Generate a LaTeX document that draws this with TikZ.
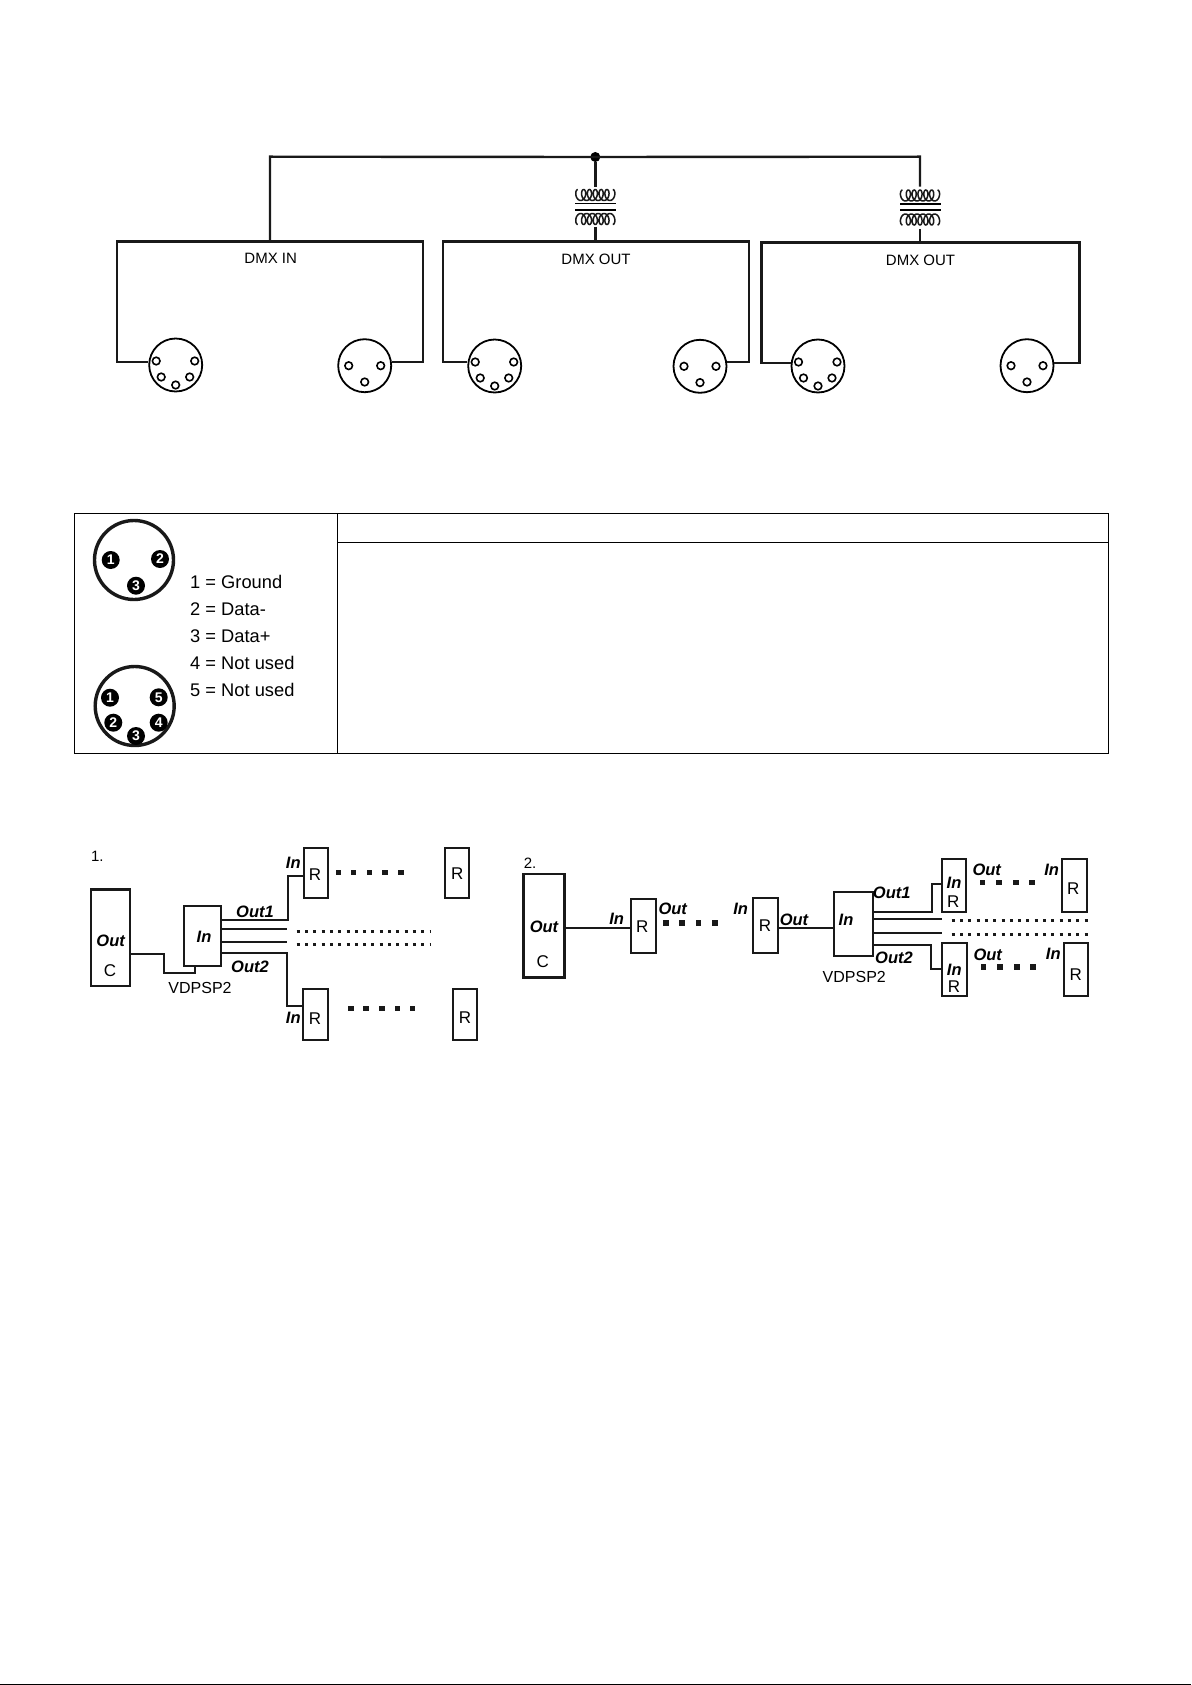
\documentclass[tikz,border=0pt]{standalone}
\usepackage{fontspec}
\setmainfont{Liberation Sans}
\tikzset{
  wire/.style={line width=2.4pt,line join=miter,color=black!90},
  thin wire/.style={line width=2pt,color=black!90},
  rbox/.style={draw=black!90,line width=2.1pt,rectangle,inner sep=0pt,fill=white},
  cbox/.style={draw=black!90,line width=2.6pt,rectangle,inner sep=0pt,fill=white},
  lab/.style={inner sep=0pt,font=\fontsize{15}{18}\selectfont},
  rtxt/.style={inner sep=0pt,font=\fontsize{17}{20}\selectfont},
  vtxt/.style={inner sep=0pt,font=\fontsize{16}{19}\selectfont},
  sig/.style={inner sep=0pt,font=\fontsize{16.5}{19}\selectfont\bfseries\itshape},
  dmxlab/.style={inner sep=0pt,font=\fontsize{15}{18}\selectfont},
  legend/.style={inner sep=0pt,anchor=west,font=\fontsize{18.3}{21}\selectfont},
  plug/.style={circle,draw=black,line width=1.8pt,minimum size=53pt,inner sep=0pt,fill=white},
  pin/.style={draw=black,line width=1.6pt,fill=white},
  bigplug/.style={circle,draw=black!90,line width=3.4pt,minimum size=79pt,inner sep=0pt},
  bigpin/.style={circle,fill=black,minimum size=18pt,inner sep=0pt,text=white,font=\fontsize{14}{14}\selectfont\bfseries},
  tableline/.style={line width=1pt,color=black},
  dotted wire/.style={line width=3pt,dash pattern=on 3pt off 5.3pt,color=black!90},
}
\newcommand{\fivepins}[1]{%
  \foreach \dx/\dy in {-19.5/-4,19/-4,-14.5/12,14/12,0/20}
    \draw[pin] ($(#1)+(\dx,\dy)$) circle (3.8pt);}
\newcommand{\threepins}[1]{%
  \foreach \dx/\dy in {-16/0,16/0,0/16.3}
    \draw[pin] ($(#1)+(\dx,\dy)$) circle (3.8pt);}
\newcommand{\coilat}[3]{% x, y, sign
  \draw[line width=1.5pt,color=black!90] plot[smooth,samples=130,domain=0:2160,variable=\t]
    ({#1-17.5+0.0162*\t-3.4*sin(\t)},{#2-#3*5.5*cos(\t)});}
\newcommand{\dotrow}[2]{%
  \foreach \dx in {#2}
    \fill[black!90] (\dx-2.8,#1-2.8) rectangle (\dx+2.8,#1+2.8);}
\usetikzlibrary{calc}
\begin{document}
\begin{tikzpicture}[x=1pt,y=-1pt]
\useasboundingbox (0,0) rectangle (1191,1685);
\fill[white] (0,0) rectangle (1191,1685);
\fill[black] (0,1684) rectangle (1191,1685);

% --- top schematic ---
\coordinate (b1t) at (270,241.7);
\coordinate (b2t) at (595.3,241.7);
\coordinate (b3t) at (920,242.7);
\coordinate (t1a) at (595.3,186.7);
\coordinate (t1b) at (595.3,227);
\coordinate (t2a) at (920,186.7);
\coordinate (t2b) at (920,229);
\node[plug] (p1) at (175.7,365) {};
\node[plug] (q1) at (364.7,365.7) {};
\node[plug] (p2) at (494.7,366) {};
\node[plug] (q2) at (700,366.3) {};
\node[plug] (p3) at (818,366) {};
\node[plug] (q3) at (1027,365.7) {};
\node[circle,fill=black,minimum size=10pt,inner sep=0pt] (j) at (595.3,157) {};
\draw[wire] (p1.west |- 0,361.7) -- (117,361.7) -- (117,241.7) -- (422.7,241.7) -- (422.7,361.7) -- (q1.east |- 0,361.7);
\draw[wire] (p2.west |- 0,361.7) -- (442.7,361.7) -- (442.7,241.7) -- (749,241.7) -- (749,361.7) -- (q2.east |- 0,361.7);
\draw[wire] (p3.west |- 0,362.7) -- (761.3,362.7) -- (761.3,242.7) -- (1079.3,242.7) -- (1079.3,362.7) -- (q3.east |- 0,362.7);
\draw[wire] (b1t) -- (270,156.7) -- (j.center) -- (920,156.7) -- (t2a);
\draw[wire] (j) -- (t1a);
\draw[wire] (t1b) -- (b2t);
\draw[wire] (t2b) -- (b3t);
\fivepins{p1}\threepins{q1}\fivepins{p2}\threepins{q2}\fivepins{p3}\threepins{q3}
\coilat{595.3}{195}{1}\coilat{595.3}{219}{-1}
\coilat{920}{195.5}{1}\coilat{920}{219.5}{-1}
\draw[line width=1.6pt] (575,203.5) -- (616,203.5) (575,210) -- (616,210);
\draw[line width=1.6pt] (900,204) -- (941,204) (900,210) -- (941,210);
\node[dmxlab] (l1) at (270.7,258.5) {DMX IN};
\node[dmxlab] (l2) at (596,259.5) {DMX OUT};
\node[dmxlab] (l3) at (920.5,260) {DMX OUT};

% --- table ---
\draw[tableline] (74.3,513.3) rectangle (1108.5,753.3);
\draw[tableline] (337.3,513.3) -- (337.3,753.3);
\draw[tableline] (337.3,542.3) -- (1108.5,542.3);
\node[bigplug] (x3) at (134,560) {};
\node[bigplug] (x5) at (134.7,706) {};
\node[bigpin] (a1) at (110.7,560) {1};
\node[bigpin] (a2) at (160,559) {2};
\node[bigpin] (a3) at (136,585.7) {3};
\node[bigpin] (c1) at (110,697.7) {1};
\node[bigpin] (c5) at (158.7,697.3) {5};
\node[bigpin] (c2) at (113.3,722.7) {2};
\node[bigpin] (c4) at (158.7,722.7) {4};
\node[bigpin] (c3) at (136,736) {3};
\node[legend] (t1) at (190,582.3) {1 = Ground};
\node[legend] (t2) at (190,609.3) {2 = Data-};
\node[legend] (t3) at (190,636) {3 = Data+};
\node[legend] (t4) at (190,663.3) {4 = Not used};
\node[legend] (t5) at (190,690) {5 = Not used};

% --- diagram 1 ---
\node[lab] (n1) at (97.3,856) {1.};
\node[cbox,minimum width=39pt,minimum height=96.7pt] (dC) at (110.5,937.7) {};
\node[rbox,minimum width=36.7pt,minimum height=60pt] (dS) at (202.7,935.7) {};
\node[rbox,minimum width=23.7pt,minimum height=50.6pt] (dR1) at (315.8,873) {};
\node[rbox,minimum width=24pt,minimum height=50.6pt] (dR2) at (457,873) {};
\node[rbox,minimum width=25pt,minimum height=50.7pt] (dR3) at (315.8,1014.7) {};
\node[rbox,minimum width=24pt,minimum height=50.7pt] (dR4) at (465.3,1014.7) {};
\draw[thin wire] (dC.east |- 0,954) -- (164,954) -- (164,972.7) -- (195,972.7) -- (195,965.7);
\draw[thin wire] (dS.east |- 0,920) -- (288.3,920) -- (288.3,875.7) -- (dR1.west |- 0,875.7);
\draw[thin wire] (dS.east |- 0,929.3) -- (287.3,929.3);
\draw[thin wire] (dS.east |- 0,942.3) -- (287.3,942.3);
\draw[thin wire] (dS.east |- 0,953.3) -- (287.3,953.3) -- (287.3,1006) -- (dR3.west |- 0,1006);
\draw[dotted wire] (296.7,931.3) -- (430,931.3);
\draw[dotted wire] (296.7,944) -- (430,944);
\dotrow{872.3}{338.3,353.3,369.3,385,400.7}
\dotrow{1008.3}{350.7,366,381.7,397.3,412.3}
\node[sig] (o1) at (110.7,941) {Out};
\node[rtxt] (o2) at (110,971) {C};
\node[sig] (o3) at (204,937.3) {In};
\node[vtxt] (o4) at (200,987.7) {VDPSP2};
\node[sig] (o5) at (255,911.7) {Out1};
\node[sig] (o6) at (250,966.7) {Out2};
\node[sig] (o7) at (293.3,863.3) {In};
\node[sig] (o8) at (293.3,1018.3) {In};
\node[rtxt] (o9) at (315,875) {R};
\node[rtxt] (o10) at (457.3,874) {R};
\node[rtxt] (o11) at (315,1018.3) {R};
\node[rtxt] (o12) at (465,1017.3) {R};

% --- diagram 2 ---
\node[lab] (n2) at (530,863.3) {2.};
\node[cbox,minimum width=40.6pt,minimum height=103.3pt] (eC) at (544,925.7) {};
\node[rbox,minimum width=25pt,minimum height=54pt] (eR1) at (643.2,926.3) {};
\node[rbox,minimum width=25pt,minimum height=54.4pt] (eR2) at (765.8,925.5) {};
\node[rbox,minimum width=38.7pt,minimum height=64.3pt] (eS) at (853.3,923.8) {};
\node[rbox,minimum width=24.3pt,minimum height=52.7pt] (eR3) at (953.8,885.3) {};
\node[rbox,minimum width=25pt,minimum height=52.7pt] (eR4) at (1074.2,885.3) {};
\node[rbox,minimum width=25pt,minimum height=52.4pt] (eR5) at (954.8,969.5) {};
\node[rbox,minimum width=24.3pt,minimum height=52.4pt] (eR6) at (1076.2,969.5) {};
\draw[thin wire] (eC.east |- 0,928.3) -- (eR1.west |- 0,928.3);
\draw[thin wire] (eR2.east |- 0,927.7) -- (eS.west |- 0,927.7);
\draw[thin wire] (eS.east |- 0,911.7) -- (931.7,911.7) -- (931.7,884.3) -- (eR3.west |- 0,884.3);
\draw[thin wire] (eS.east |- 0,919) -- (941.7,919);
\draw[thin wire] (eS.east |- 0,932.7) -- (941.7,932.7);
\draw[thin wire] (eS.east |- 0,945.3) -- (930.7,945.3) -- (930.7,969) -- (eR5.west |- 0,969);
\draw[dotted wire] (951.7,920) -- (1091.7,920);
\draw[dotted wire] (951.7,934) -- (1091.7,934);
\dotrow{922.7}{665.7,682,698.3,714.7}
\dotrow{882.3}{982.3,999,1015.7,1031.7}
\dotrow{966.7}{983.3,1000,1016.7,1032.7}
\node[sig] (s1) at (544,926.7) {Out};
\node[rtxt] (s2) at (542.7,961.7) {C};
\node[sig] (s3) at (616.7,919) {In};
\node[rtxt] (s4) at (642.3,926.7) {R};
\node[sig] (s5) at (672.7,909.3) {Out};
\node[sig] (s6) at (740.7,909) {In};
\node[rtxt] (s7) at (765,925.7) {R};
\node[sig] (s8) at (794,920) {Out};
\node[sig] (s9) at (846,920) {In};
\node[sig] (s10) at (891.7,893.3) {Out1};
\node[sig] (s11) at (894,958.3) {Out2};
\node[vtxt] (s12) at (854.3,977.3) {VDPSP2};
\node[sig] (s13) at (954,883.3) {In};
\node[rtxt] (s14) at (953.3,901.7) {R};
\node[sig] (s15) at (986.7,870) {Out};
\node[sig] (s16) at (1051.7,870) {In};
\node[rtxt] (s17) at (1073.3,888.3) {R};
\node[sig] (s18) at (954.3,970) {In};
\node[rtxt] (s19) at (954,986.7) {R};
\node[sig] (s20) at (987.7,955) {Out};
\node[sig] (s21) at (1053.3,954) {In};
\node[rtxt] (s22) at (1075.7,974.3) {R};
\end{tikzpicture}
\end{document}
